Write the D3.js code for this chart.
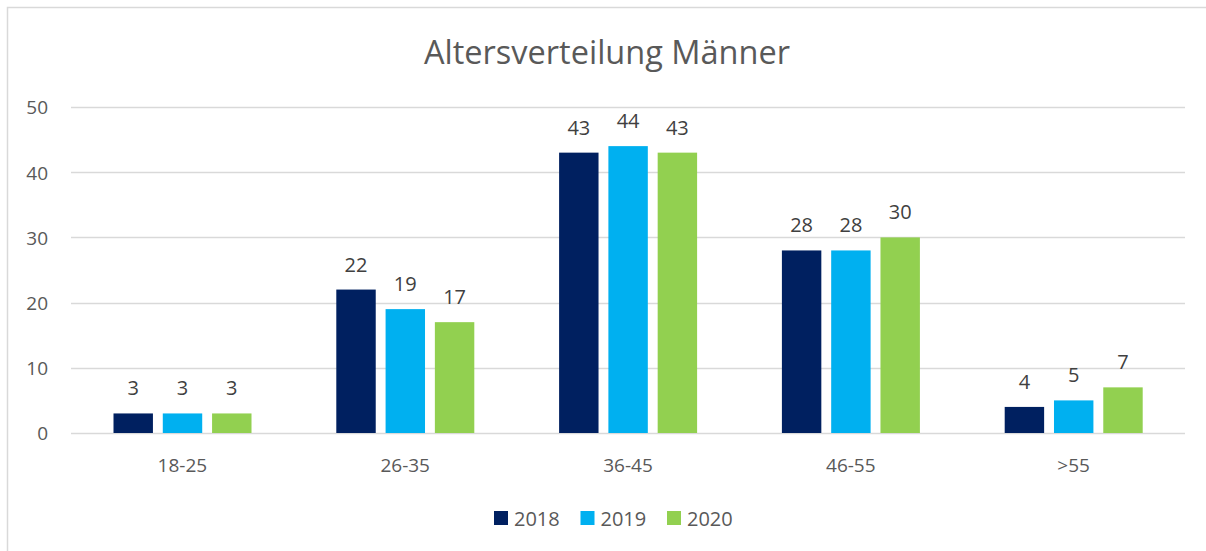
<!DOCTYPE html>
<html>
<head>
<meta charset="utf-8">
<script src="https://cdn.jsdelivr.net/npm/d3@7"></script>
<style>
  html, body { margin: 0; padding: 0; background: #fff; }
  svg { display: block; }
  text { font-family: "Open Sans", "Noto Sans", sans-serif; }
</style>
</head>
<body>
<svg id="chart" width="1206" height="551"></svg>
<script>
const title = "Altersverteilung Männer";
const categories = ["18-25", "26-35", "36-45", "46-55", ">55"];
const series = ["2018", "2019", "2020"];
const values2018 = [3, 22, 43, 28, 4];
const values2019 = [3, 19, 44, 28, 5];
const values2020 = [3, 17, 43, 30, 7];
const yTicks = [0, 10, 20, 30, 40, 50];
const colors = ["#002060", "#00b0f0", "#92d050"];

const FONT = "'Open Sans', 'Noto Sans', sans-serif";
const allValues = [values2018, values2019, values2020];
const svg = d3.select("#chart");

// border
svg.append("path").attr("d", "M7.5,560 V7.5 H1215")
  .attr("fill", "none").attr("stroke", "#d9d9d9").attr("stroke-width", 1.5);

const x0 = d3.scaleBand().domain(categories).range([71, 1185]).padding(0);
const x1 = d3.scaleBand().domain(series).range([42.5, 180.5]).paddingInner(0.2);
const y = d3.scaleLinear().domain([0, 50]).range([433, 107]);

// gridlines
svg.append("g").selectAll("line").data(yTicks).join("line")
  .attr("x1", 71).attr("x2", 1185)
  .attr("y1", d => Math.round(y(d)) + 0.5).attr("y2", d => Math.round(y(d)) + 0.5)
  .attr("stroke", "#d9d9d9").attr("stroke-width", 1.5);

// y axis labels
const yAxis = d3.axisLeft(y).tickValues(yTicks).tickSize(0).tickPadding(0);
const gy = svg.append("g").attr("transform", "translate(48,0)").call(yAxis);
gy.select(".domain").remove();
gy.selectAll("text").attr("font-family", FONT)
  .attr("font-size", 19).attr("fill", "#595959").attr("dy", "0.36em");

// x axis labels
const xAxis = d3.axisBottom(x0).tickSize(0).tickPadding(0);
const gx = svg.append("g").attr("transform", "translate(0,472)").call(xAxis);
gx.select(".domain").remove();
gx.selectAll("text").attr("font-family", FONT)
  .attr("font-size", 19).attr("fill", "#595959").attr("dy", 0).attr("y", 0);

// bars
const data = [];
categories.forEach((c, i) => series.forEach((s, j) => data.push({c, s, v: allValues[j][i], j})));
const g = svg.append("g");
g.selectAll("rect").data(data).join("rect")
  .attr("x", d => x0(d.c) + x1(d.s))
  .attr("y", d => y(d.v))
  .attr("width", x1.bandwidth())
  .attr("height", d => y(0) - y(d.v))
  .attr("fill", d => colors[d.j]);

g.selectAll("text").data(data).join("text")
  .attr("x", d => x0(d.c) + x1(d.s) + x1.bandwidth() / 2)
  .attr("y", d => y(d.v) - 18)
  .attr("text-anchor", "middle")
  .attr("font-size", 20).attr("fill", "#404040")
  .text(d => d.v);

// title
svg.append("text").attr("x", 607).attr("y", 64).attr("text-anchor", "middle")
  .attr("font-size", 32.5).attr("fill", "#595959").text(title);

// legend
const leg = svg.append("g");
const legX = d3.scalePoint().domain(series).range([494, 667]);
const li = leg.selectAll("g").data(series).join("g")
  .attr("transform", d => `translate(${legX(d)},511)`);
li.append("rect").attr("width", 14).attr("height", 14).attr("fill", (d, i) => colors[i]);
li.append("text").attr("x", 20).attr("y", 14.5).attr("font-size", 20).attr("fill", "#595959").text(d => d);
</script>
</body>
</html>
